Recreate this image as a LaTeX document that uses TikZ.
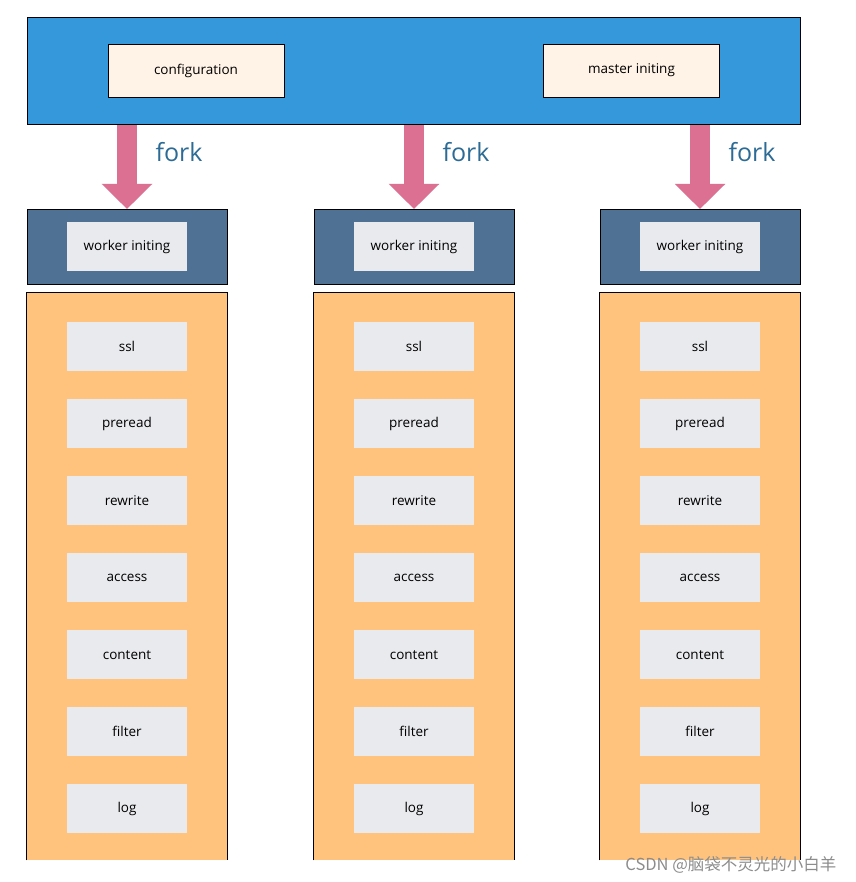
\documentclass[tikz,border=0pt]{standalone}
\usepackage{fontspec}
\setmainfont{Open Sans}
\newfontfamily\cjk{Noto Sans CJK SC}
\usepackage{tikz}
\usetikzlibrary{arrows.meta,positioning,calc}
\definecolor{masterblue}{RGB}{53,152,219}
\definecolor{cream}{RGB}{255,242,230}
\definecolor{forkpink}{RGB}{219,112,147}
\definecolor{forkblue}{RGB}{44,107,149}
\definecolor{headerblue}{RGB}{79,114,148}
\definecolor{orangebox}{RGB}{255,195,125}
\definecolor{boxgray}{RGB}{233,234,238}

\begin{document}
\begin{tikzpicture}[
    x=1pt, y=-1pt,
    node distance=27.6pt,
    master/.style={draw, line width=0.8pt, fill=masterblue, minimum width=773pt, minimum height=107pt, inner sep=0pt, anchor=north west},
    phase/.style={draw, line width=0.6pt, fill=cream, minimum width=176pt, minimum height=53pt, font=\fontsize{13.5}{16}\selectfont},
    header/.style={draw, line width=0.8pt, fill=headerblue, minimum width=200pt, minimum height=75pt, inner sep=0pt, anchor=north},
    column/.style={fill=orangebox, minimum width=200pt, minimum height=568pt, inner sep=0pt, anchor=north},
    stepbox/.style={fill=boxgray, minimum width=120pt, minimum height=49pt, inner sep=0pt, font=\fontsize{13.5}{16}\selectfont},
    forkarrow/.style={line width=20pt, draw=forkpink, -{Triangle[length=25pt, width=49pt]}},
    forklabel/.style={font=\fontsize{25}{30}\selectfont, text=forkblue, anchor=base west}
]
    \useasboundingbox (0,0) rectangle (855,882);

    % Master process
    \node[master] (master) at (27,17) {};
    \node[phase] (config) at (196,70.5) {configuration};
    \node[phase] (mstinit) at (631.5,70.5) {master initing};

    % Worker processes
    \foreach \c/\x in {1/127, 2/414, 3/700} {
        \node[header] (hdr\c) at (\x,209) {};
        \node[stepbox] (init\c) at (hdr\c) {worker initing};
        \node[column] (col\c) at (\x,292) {};
        \draw[line width=0.8pt] (col\c.south west) -- (col\c.north west) -- (col\c.north east) -- (col\c.south east);
        \node[stepbox, below=30pt of col\c.north] (ssl\c) {ssl};
        \foreach \s [remember=\s as \prev (initially ssl)] in {preread, rewrite, access, content, filter, log}
            \node[stepbox, below=of \prev\c] (\s\c) {\s};
        % Fork
        \draw[forkarrow] (master.south -| hdr\c.north) -- (hdr\c.north);
        \node[forklabel] (fork\c) at (\x+25,162) {fork};
    }

    % Watermark
    \node[anchor=base east, text=black!45, font=\cjk\fontsize{16.5}{20}\selectfont] (mark) at (840,870) {CSDN @脑袋不灵光的小白羊};
\end{tikzpicture}
\end{document}
